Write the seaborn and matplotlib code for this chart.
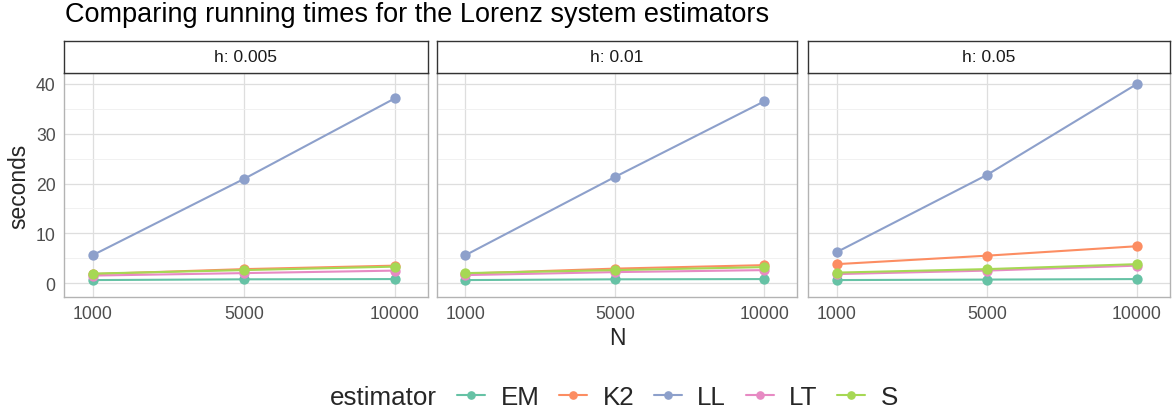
import matplotlib
matplotlib.use("Agg")
import matplotlib.pyplot as plt
import seaborn as sns
import pandas as pd
from matplotlib.lines import Line2D
from matplotlib.ticker import MultipleLocator

# ---- data ----
estimators = ["EM", "K2", "LL", "LT", "S"]
N_values = ["1000", "5000", "10000"]
h_values = ["0.005", "0.01", "0.05"]

em_h1 = [0.6, 0.75, 0.8]
k2_h1 = [1.8, 2.8, 3.5]
ll_h1 = [5.6, 20.9, 37.1]
lt_h1 = [1.5, 2.0, 2.5]
s_h1 = [1.9, 2.6, 3.3]

em_h2 = [0.6, 0.75, 0.8]
k2_h2 = [1.9, 2.9, 3.6]
ll_h2 = [5.6, 21.3, 36.5]
lt_h2 = [1.6, 2.2, 2.6]
s_h2 = [2.0, 2.6, 3.2]

em_h3 = [0.6, 0.7, 0.8]
k2_h3 = [3.8, 5.5, 7.4]
ll_h3 = [6.2, 21.7, 40.0]
lt_h3 = [1.8, 2.5, 3.5]
s_h3 = [2.1, 2.8, 3.8]

series = {
    "0.005": {"EM": em_h1, "K2": k2_h1, "LL": ll_h1, "LT": lt_h1, "S": s_h1},
    "0.01": {"EM": em_h2, "K2": k2_h2, "LL": ll_h2, "LT": lt_h2, "S": s_h2},
    "0.05": {"EM": em_h3, "K2": k2_h3, "LL": ll_h3, "LT": lt_h3, "S": s_h3},
}
rows = []
for h in h_values:
    for est in estimators:
        for n, v in zip(N_values, series[h][est]):
            rows.append({"h": h, "estimator": est, "N": n, "seconds": v})
df = pd.DataFrame(rows)

palette = dict(zip(estimators, ["#66C2A5", "#FC8D62", "#8DA0CB", "#E78AC3", "#A6D854"]))

sns.set_style("white")
plt.rcParams["font.family"] = ["Liberation Sans", "DejaVu Sans"]

W, H = 1175, 414
fig = plt.figure(figsize=(W / 100, H / 100), dpi=100)

panels = [(64, 428), (437, 797), (808, 1170)]
top, bottom = 74, 298
strip_top = 42
border = "#B3B3B3"

for i, (h, (x0, x1)) in enumerate(zip(h_values, panels)):
    ax = fig.add_axes([x0 / W, 1 - bottom / H, (x1 - x0) / W, (bottom - top) / H])
    sub = df[df["h"] == h]
    sns.pointplot(data=sub, x="N", y="seconds", hue="estimator", order=N_values,
                  hue_order=estimators, palette=palette, ax=ax, markers="o",
                  markersize=6.3, linewidth=1.5, legend=False)
    ax.set_xlim(-0.19, 2.22)
    ax.set_ylim(-2.8, 42.2)
    ax.yaxis.set_major_locator(MultipleLocator(10))
    ax.yaxis.set_minor_locator(MultipleLocator(5))
    ax.grid(True, which="major", color="#DEDEDE", linewidth=0.9)
    ax.grid(True, which="minor", axis="y", color="#EFEFEF", linewidth=0.6)
    ax.set_axisbelow(True)
    for sp in ax.spines.values():
        sp.set_color(border)
        sp.set_linewidth(1.0)
    ax.tick_params(axis="both", which="major", length=3, color=border, labelsize=12.7,
                   labelcolor="#4D4D4D", pad=3)
    ax.tick_params(axis="y", which="minor", length=0)
    ax.set_xlabel("N" if i == 1 else "", fontsize=16.4, labelpad=3)
    if i == 0:
        ax.set_ylabel("seconds", fontsize=16.4, labelpad=4)
    else:
        ax.set_ylabel("")
        ax.set_yticklabels([])
        ax.tick_params(axis="y", length=0)
    # strip
    sax = fig.add_axes([x0 / W, 1 - top / H, (x1 - x0) / W, (top - strip_top) / H])
    sax.set_xticks([])
    sax.set_yticks([])
    sax.set_facecolor("white")
    for sp in sax.spines.values():
        sp.set_color("#333333")
        sp.set_linewidth(1.0)
    sax.text(0.5, 0.5, f"h: {h}", ha="center", va="center", fontsize=12.5,
             color="#1A1A1A", transform=sax.transAxes)

fig.text(65 / W, 1 - 22 / H, "Comparing running times for the Lorenz system estimators",
         fontsize=19.5, ha="left", va="baseline", color="black")

handles = [Line2D([0], [0], color=palette[e], marker="o", markersize=5.2, linewidth=1.5)
           for e in estimators]
fig.text(330 / W, 1 - 398 / H, "estimator", fontsize=18.7, ha="left", va="center")
fig.legend(handles, estimators, loc="center left", bbox_to_anchor=(457 / W, 1 - 398 / H),
           ncol=5, frameon=False, fontsize=18.7, handlelength=1.08, handletextpad=0.6,
           columnspacing=0.75, borderaxespad=0, borderpad=0)

fig.savefig("out.png", dpi=100)
